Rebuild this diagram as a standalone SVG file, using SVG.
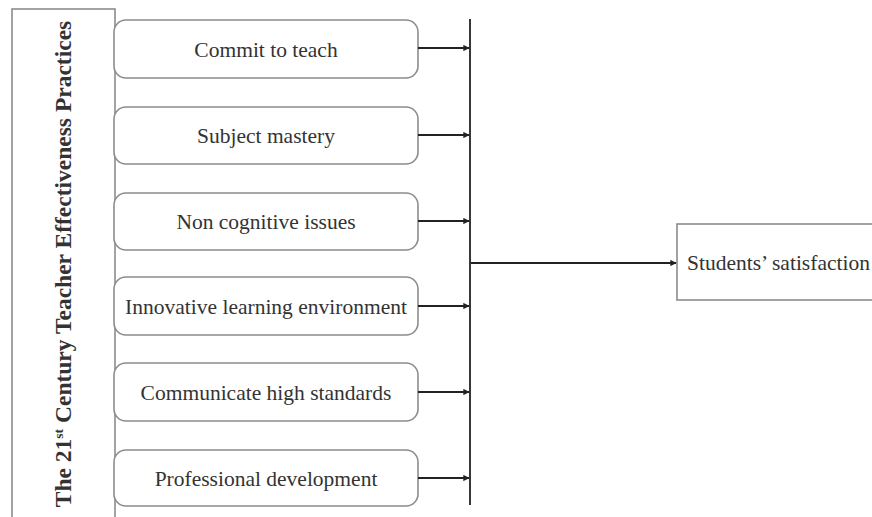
<svg xmlns="http://www.w3.org/2000/svg" width="872" height="517" viewBox="0 0 872 517">
<defs>
<style>
.box{fill:#fff;stroke:#8c8c8c;stroke-width:1.6}
.lbl{font-family:"Liberation Serif","Times New Roman",serif;font-size:21.5px;fill:#333;text-anchor:middle}
.con{stroke:#222;stroke-width:1.8;fill:none}
</style>
<marker id="ah" viewBox="0 0 10 10" refX="9" refY="5" markerWidth="3.5" markerHeight="3.5" orient="auto" markerUnits="strokeWidth">
<path d="M0,0 L10,5 L0,10 z" fill="#222"/>
</marker>
</defs>
<rect width="872" height="517" fill="#fff"/>
<g id="practices">
<rect class="box" x="12" y="9" width="103" height="520"/>
<text transform="translate(71,264) rotate(-90)" font-family="'Liberation Serif','Times New Roman',serif" font-size="23.5" font-weight="bold" fill="#333" text-anchor="middle">The 21<tspan font-size="13.5" dy="-8.5">st</tspan><tspan dy="8.5"> Century Teacher Effectiveness Practices</tspan></text>
</g>
<g id="commit"><rect class="box" x="114" y="20" width="304" height="58" rx="12"/><text class="lbl" x="266" y="57">Commit to teach</text></g>
<g id="subject"><rect class="box" x="114" y="107" width="304" height="57" rx="12"/><text class="lbl" x="266" y="143">Subject mastery</text></g>
<g id="noncog"><rect class="box" x="114" y="193" width="304" height="57" rx="12"/><text class="lbl" x="266" y="229">Non cognitive issues</text></g>
<g id="innov"><rect class="box" x="114" y="277" width="304" height="58" rx="12"/><text class="lbl" x="266" y="314">Innovative learning environment</text></g>
<g id="communicate"><rect class="box" x="114" y="363" width="304" height="58" rx="12"/><text class="lbl" x="266" y="400">Communicate high standards</text></g>
<g id="professional"><rect class="box" x="114" y="450" width="304" height="56" rx="12"/><text class="lbl" x="266" y="486">Professional development</text></g>
<g id="satisfaction"><rect class="box" x="677" y="224" width="210" height="76"/><text class="lbl" x="687" y="270" style="text-anchor:start">Students’ satisfaction</text></g>
<g id="connectors">
<line class="con" x1="470" y1="19" x2="470" y2="505" stroke-width="2"/>
<line class="con" x1="418" y1="48" x2="469" y2="48" marker-end="url(#ah)"/>
<line class="con" x1="418" y1="135" x2="469" y2="135" marker-end="url(#ah)"/>
<line class="con" x1="418" y1="221" x2="469" y2="221" marker-end="url(#ah)"/>
<line class="con" x1="418" y1="306" x2="469" y2="306" marker-end="url(#ah)"/>
<line class="con" x1="418" y1="392" x2="469" y2="392" marker-end="url(#ah)"/>
<line class="con" x1="418" y1="478" x2="469" y2="478" marker-end="url(#ah)"/>
<line class="con" x1="471" y1="263" x2="676" y2="263" marker-end="url(#ah)"/>
</g>
</svg>
